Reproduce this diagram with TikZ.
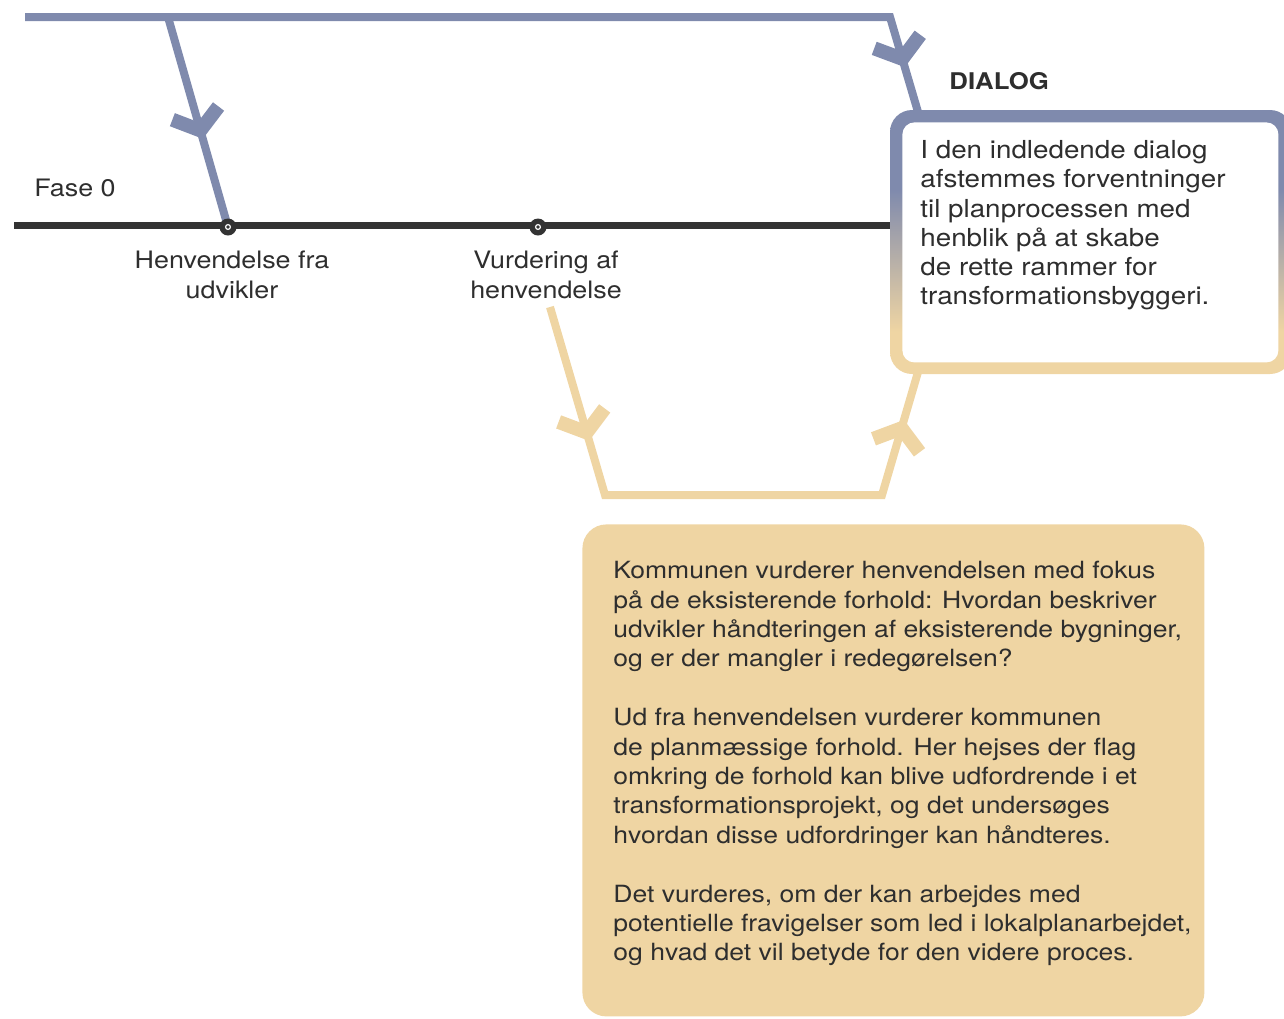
\documentclass[tikz,border=0pt]{standalone}
\usepackage{fontspec}
\setmainfont{TeX Gyre Heros}[FakeStretch=1.12]
\usetikzlibrary{decorations.markings,backgrounds}
\definecolor{Slate}{HTML}{7F8AAD}
\definecolor{Sand}{HTML}{EFD5A3}
\definecolor{Ink}{HTML}{333333}
\definecolor{Copy}{HTML}{2E2E2E}
\pgfdeclareverticalshading{slatesand}{100bp}{color(0bp)=(Sand); color(33bp)=(Sand); color(60bp)=(Slate); color(100bp)=(Slate)}
\tikzset{
  slateline/.style={Slate,line width=4pt,line join=miter},
  sandline/.style={Sand,line width=4pt,line join=miter},
  barb/.style={postaction={decorate,decoration={markings,mark=at position #1 with {\draw[line width=7pt,line cap=butt,line join=miter] (-9pt,12pt) -- (0pt,0pt) -- (-9pt,-12pt);}}}},
  milestone/.style={circle,fill=Ink,inner sep=0pt,minimum size=8.5pt,path picture={\draw[white,line width=0.6pt] (path picture bounding box.center) circle (1.2pt);}},
  bodyfont/.style={font=\fontsize{11.85}{14.7}\selectfont},
  tagfont/.style={font=\fontsize{12}{14.7}\selectfont},
}

\begin{document}
\begin{tikzpicture}[x=0.5pt,y=-0.5pt,every node/.style={text=Copy,inner sep=0pt}]
  \useasboundingbox (0,0) rectangle (1284,1018);

  % milestones on the phase line
  \node[milestone] (henv) at (228,227) {};
  \node[milestone] (vurd) at (538,227) {};
  \node[tagfont,anchor=base west] (fase) at (34,196) {Fase 0};
  \node[tagfont,anchor=north,align=center] (henvlabel) at (232,251) {Henvendelse fra\\udvikler};
  \node[tagfont,anchor=north,align=center] (vurdlabel) at (546,251) {Vurdering af\\henvendelse};

  % dialog box with the two-tone frame
  \path[shading=slatesand,rounded corners=11pt] (890,110) rectangle (1292,374);
  \node[fill=white,rounded corners=6pt,anchor=north west,minimum width=188pt,minimum height=120pt] (dialog) at (902,122) {};
  \node[font=\fontsize{11.5}{14.7}\selectfont\bfseries,anchor=base west] (dialoghead) at (949,89) {DIALOG};
  \node[font=\fontsize{12.4}{14.65}\selectfont,anchor=north west,align=left] (dialogtext) at (920,140) {I den indledende dialog\\afstemmes forventninger\\til planprocessen med\\henblik på at skabe\\de rette rammer for\\transformationsbyggeri.};

  % assessment box
  \node[fill=Sand,rounded corners=12pt,anchor=north west,minimum width=311pt,minimum height=246pt] (fokus) at (582,524) {};
  \node[bodyfont,anchor=north west,align=left] (fokustext) at (613,561) {Kommunen vurderer henvendelsen med fokus\\på de eksisterende forhold: Hvordan beskriver\\udvikler håndteringen af eksisterende bygninger,\\og er der mangler i redegørelsen?\\[14.7pt]Ud fra henvendelsen vurderer kommunen\\de planmæssige forhold. Her hejses der flag\\omkring de forhold kan blive udfordrende i et\\transformationsprojekt, og det undersøges\\hvordan disse udfordringer kan håndteres.\\[14.7pt]Det vurderes, om der kan arbejdes med\\potentielle fravigelser som led i lokalplanarbejdet,\\og hvad det vil betyde for den videre proces.};

  \coordinate (lineL) at (14,225);
  \coordinate (lineR) at (890,225);
  \coordinate (topstart) at (25,17);
  \coordinate (topfork) at (168,17);
  \coordinate (topbend) at (890,17);
  \coordinate (dialogin) at (918,112);
  \coordinate (vurdout) at (550,307);
  \coordinate (lowL) at (605,495);
  \coordinate (lowR) at (882,495);
  \coordinate (dialogout) at (918,372);

  \begin{scope}[on background layer]
    \draw[Ink,line width=3.5pt] (lineL) -- (lineR);
    \draw[slateline,barb=0.9425] (topstart) -- (topbend) -- (dialogin);
    \draw[slateline,barb=0.54] (topfork) -- (henv.center);
    \draw[sandline,barb=0.2175,barb=0.9025] (vurdout) -- (lowL) -- (lowR) -- (dialogout);
  \end{scope}
\end{tikzpicture}
\end{document}
